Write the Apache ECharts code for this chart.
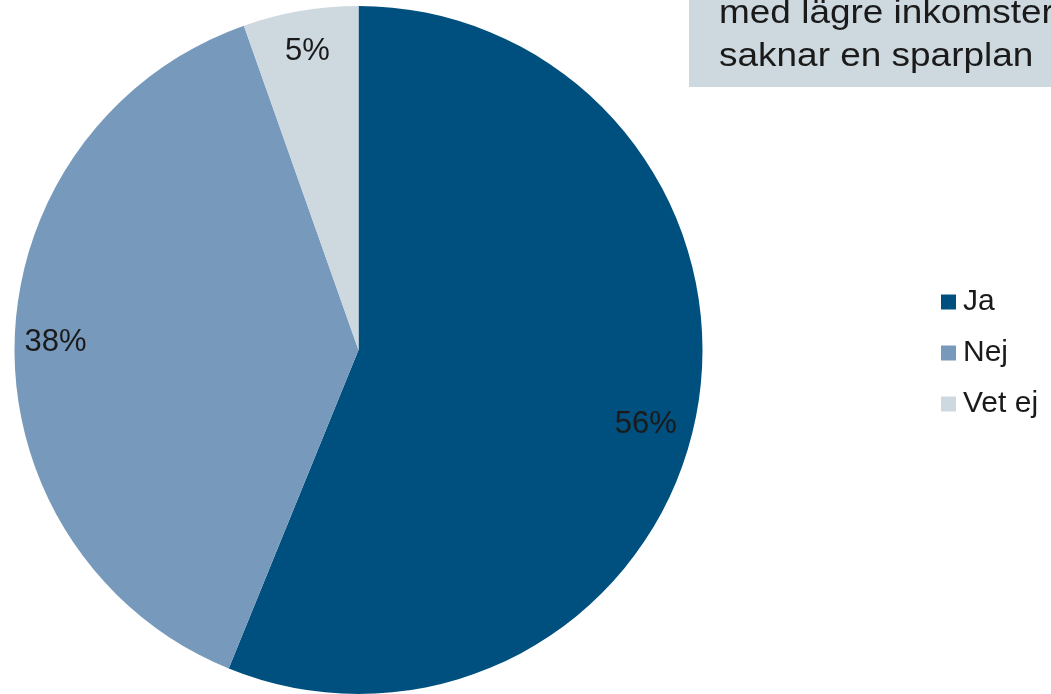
<!DOCTYPE html>
<html>
<head>
<meta charset="utf-8">
<script src="https://cdn.jsdelivr.net/npm/echarts@6/dist/echarts.min.js"></script>
<style>
  html, body { margin: 0; padding: 0; background: #fff; }
  #chart { width: 1051px; height: 694px; }
</style>
</head>
<body>
<div id="chart"></div>
<script>
// data
const categories = ['Ja', 'Nej', 'Vet ej']
const shares = [56.1, 38.4, 5.4]
const colors = ['#00507f', '#7799bb', '#cdd8df']
const titleLines = ['med lägre inkomster', 'saknar en sparplan']

const FONT = 'Liberation Sans, Arial, sans-serif'
const pieData = categories.map((name, i) => ({
  name,
  value: shares[i],
  itemStyle: { color: colors[i] }
}))

// label ring: the big slice's label sits a bit lower in the original
const labelData = categories.map((name, i) => {
  const d = { name, value: shares[i] }
  if (i === 0) d.label = { offset: [-10, 16] }
  return d
})

const chart = echarts.init(document.getElementById('chart'))
chart.setOption({
  animation: false,
  legend: {
    orient: 'vertical',
    left: 936,
    top: 282,
    icon: 'rect',
    itemWidth: 15,
    itemHeight: 15,
    itemGap: 21,
    data: categories,
    textStyle: { fontFamily: FONT, fontSize: 30, color: '#1a1a1a', padding: [0, 0, 0, 2] }
  },
  graphic: [
    {
      type: 'rect',
      shape: { x: 689, y: 0, width: 362, height: 87 },
      style: { fill: '#cdd8df' },
      silent: true
    },
    ...titleLines.map((line, i) => ({
      type: 'text',
      x: 719,
      y: 14 + i * 43,
      scaleX: 1.12,
      style: {
        text: line,
        font: '33px ' + FONT,
        verticalAlign: 'middle',
        fill: '#1a1a1a'
      },
      silent: true
    }))
  ],
  series: [
    {
      // the pie itself
      type: 'pie',
      center: [358.5, 350],
      radius: [0, 344],
      startAngle: 90,
      clockwise: true,
      label: { show: false },
      labelLine: { show: false },
      emphasis: { disabled: true },
      data: pieData
    },
    {
      // transparent ring, only used to place the percent labels near the rim
      type: 'pie',
      center: [358.5, 350],
      radius: [256, 344],
      startAngle: 90,
      clockwise: true,
      silent: true,
      itemStyle: { color: 'transparent', borderWidth: 0 },
      label: {
        show: true,
        position: 'inside',
        fontFamily: FONT,
        fontSize: 31,
        color: '#1a1a1a',
        formatter: p => Math.round(p.value) + '%'
      },
      labelLine: { show: false },
      emphasis: { disabled: true },
      data: labelData
    }
  ]
})
</script>
</body>
</html>
